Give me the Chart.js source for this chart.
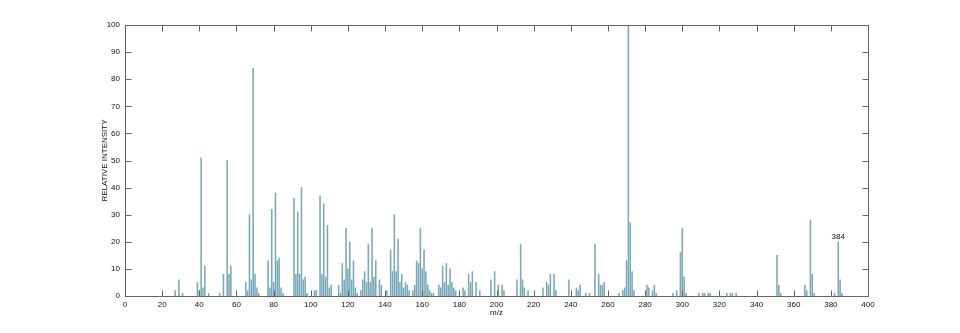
<!DOCTYPE html>
<html>
<head>
<meta charset="utf-8">
<script src="https://cdn.jsdelivr.net/npm/chart.js@4.4.0/dist/chart.umd.min.js"></script>
<style>
  html, body { margin: 0; padding: 0; background: #fff; }
  #wrap { width: 960px; height: 333px; position: relative; }
</style>
</head>
<body>
<div id="wrap"><canvas id="spectrum"></canvas></div>
<script>
// m/z of each peak and its relative intensity (%)
const mzValues = [
  27, 29, 31, 39, 40, 41, 42, 43, 45, 51, 53, 55, 56, 57, 65, 66, 67, 68, 69, 70, 71, 72,
  77, 78, 79, 80, 81, 82, 83, 84, 85, 91, 92, 93, 94, 95, 96, 97, 98, 102, 103,
  105, 106, 107, 108, 109, 110, 111, 115, 116, 117, 118, 119, 120, 121, 122, 123, 124, 125,
  127, 128, 129, 130, 131, 132, 133, 134, 135, 137, 138, 141, 143, 144, 145, 146, 147, 148,
  149, 150, 151, 152, 153, 155, 156, 157, 158, 159, 160, 161, 162, 163, 164, 165, 166,
  169, 170, 171, 172, 173, 174, 175, 176, 177, 178, 182, 183, 185, 186, 187, 189, 191,
  197, 199, 201, 203, 204, 211, 213, 214, 215, 217, 225, 227, 228, 229, 231, 232,
  239, 243, 244, 245, 248, 250, 253, 255, 256, 257, 258, 266, 268, 269, 270, 271, 272,
  273, 274, 281, 282, 284, 285, 286, 295, 297, 299, 300, 301, 302, 309, 311, 312, 314,
  315, 324, 326, 327, 329, 351, 352, 353, 366, 367, 369, 370, 371, 382, 384, 385, 386
];
const intensities = [
  2, 6, 1, 5, 2, 51, 3, 11, 1, 1, 8, 50, 8, 11, 5, 2, 30, 6, 84, 8, 3, 1,
  13, 3, 32, 5, 38, 13, 14, 3, 1, 36, 8, 31, 8, 40, 6, 7, 1, 2, 2,
  37, 8, 34, 7, 26, 3, 4, 4, 1, 12, 6, 25, 10, 20, 6, 13, 3, 1,
  2, 6, 9, 5, 19, 5, 25, 7, 13, 6, 4, 2, 17, 9, 30, 9, 21, 5,
  8, 3, 5, 4, 2, 2, 4, 13, 12, 25, 10, 17, 9, 4, 2, 1, 1,
  4, 3, 11, 5, 12, 4, 10, 5, 3, 2, 3, 2, 8, 5, 9, 5, 2,
  6, 9, 4, 4, 2, 6, 19, 6, 3, 2, 3, 5, 4, 8, 8, 2,
  6, 3, 2, 4, 1, 1, 19, 8, 4, 4, 5, 1, 2, 3, 13, 100, 27,
  9, 2, 4, 3, 2, 4, 1, 1, 2, 16, 25, 7, 1, 1, 1, 1, 1,
  1, 1, 1, 1, 1, 15, 4, 1, 4, 2, 28, 8, 1, 1, 20, 6, 1
];
const xTickValues = [0, 20, 40, 60, 80, 100, 120, 140, 160, 180, 200, 220, 240, 260, 280, 300, 320, 340, 360, 380, 400];
const yTickValues = [0, 10, 20, 30, 40, 50, 60, 70, 80, 90, 100];
const labelledPeak = 384;

const FONT = "'Liberation Sans', Arial, Helvetica, sans-serif";

// box round the plot with inward ticks on all four sides, titles and peak label
const framePlugin = {
  id: 'frame',
  afterDatasetsDraw(chart) {
    const { ctx, chartArea: a, scales: { x, y } } = chart;
    const L = Math.round(a.left) + 0.5, R = Math.round(a.right) + 0.5;
    const T = Math.round(a.top) + 0.5, B = Math.round(a.bottom) + 0.5;
    const tick = 6;
    ctx.save();
    ctx.strokeStyle = '#666';
    ctx.lineWidth = 1;
    ctx.strokeRect(L, T, R - L, B - T);
    ctx.beginPath();
    xTickValues.forEach(v => {
      const px = Math.round(x.getPixelForValue(v)) + 0.5;
      ctx.moveTo(px, B); ctx.lineTo(px, B - tick);
      ctx.moveTo(px, T); ctx.lineTo(px, T + tick);
    });
    yTickValues.forEach(v => {
      const py = Math.round(y.getPixelForValue(v)) + 0.5;
      ctx.moveTo(L, py); ctx.lineTo(L + tick, py);
      ctx.moveTo(R, py); ctx.lineTo(R - tick, py);
    });
    ctx.stroke();

    ctx.fillStyle = '#111';
    ctx.font = '8px ' + FONT;
    ctx.textAlign = 'center';
    ctx.textBaseline = 'middle';
    ctx.fillText('m/z', (a.left + a.right) / 2, 313);
    ctx.save();
    ctx.translate(105, (a.top + a.bottom) / 2);
    ctx.rotate(-Math.PI / 2);
    ctx.fillText('RELATIVE INTENSITY', 0, 0);
    ctx.restore();

    const i = mzValues.indexOf(labelledPeak);
    ctx.textBaseline = 'bottom';
    ctx.fillText(String(labelledPeak), x.getPixelForValue(labelledPeak), y.getPixelForValue(intensities[i]) - 1);
    ctx.restore();
  }
};

const ctx = document.getElementById('spectrum').getContext('2d');
new Chart(ctx, {
  type: 'bar',
  data: {
    datasets: [{
      data: mzValues.map((m, i) => ({ x: m, y: intensities[i] })),
      backgroundColor: '#78a9b8',
      borderWidth: 0,
      barThickness: 0.9,
    }],
  },
  options: {
    responsive: true,
    maintainAspectRatio: false,
    animation: false,
    events: [],
    layout: { padding: { left: 0, right: 92, top: 25, bottom: 0 } },
    plugins: { legend: { display: false }, tooltip: { enabled: false } },
    scales: {
      x: {
        type: 'linear',
        min: 0,
        max: 400,
        offset: false,
        afterBuildTicks: s => { s.ticks = xTickValues.map(v => ({ value: v })); },
        afterFit: s => { s.height = 37; },
        grid: { display: false, drawTicks: false },
        border: { display: false },
        ticks: { padding: 4, maxRotation: 0, autoSkip: false, color: '#111', font: { size: 8, family: FONT } },
      },
      y: {
        min: 0,
        max: 100,
        afterBuildTicks: s => { s.ticks = yTickValues.map(v => ({ value: v })); },
        afterFit: s => { s.width = 125; },
        grid: { display: false, drawTicks: false },
        border: { display: false },
        ticks: { padding: 5, color: '#111', font: { size: 8, family: FONT } },
      },
    },
  },
  plugins: [framePlugin],
});
</script>
</body>
</html>
